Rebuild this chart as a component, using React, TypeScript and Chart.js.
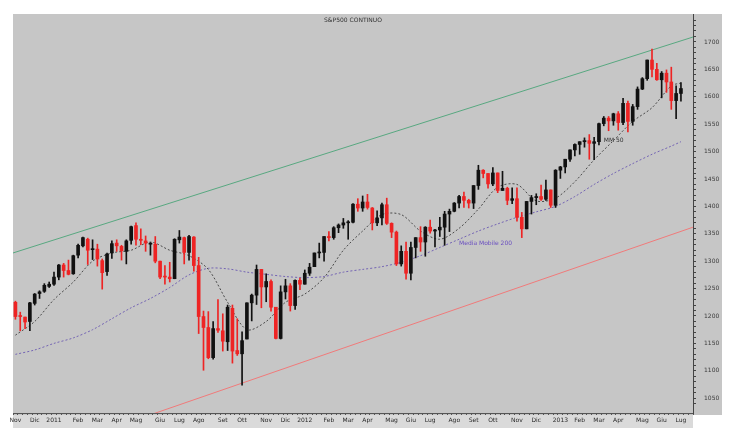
import { useEffect, useRef } from 'react';
import { Chart, registerables } from 'chart.js';

Chart.register(...registerables);

// weekly categories (week start dates)
const weeks = [
  '2010-11-08','2010-11-15','2010-11-22','2010-11-29','2010-12-06','2010-12-13','2010-12-20','2010-12-27',
  '2011-01-03','2011-01-10','2011-01-17','2011-01-24','2011-01-31','2011-02-07','2011-02-14','2011-02-21','2011-02-28',
  '2011-03-07','2011-03-14','2011-03-21','2011-03-28','2011-04-04','2011-04-11','2011-04-18','2011-04-25',
  '2011-05-02','2011-05-09','2011-05-16','2011-05-23','2011-05-30','2011-06-06','2011-06-13','2011-06-20','2011-06-27',
  '2011-07-04','2011-07-11','2011-07-18','2011-07-25','2011-08-01','2011-08-08','2011-08-15','2011-08-22','2011-08-29',
  '2011-09-05','2011-09-12','2011-09-19','2011-09-26','2011-10-03','2011-10-10','2011-10-17','2011-10-24','2011-10-31',
  '2011-11-07','2011-11-14','2011-11-21','2011-11-28','2011-12-05','2011-12-12','2011-12-19','2011-12-26',
  '2012-01-02','2012-01-09','2012-01-16','2012-01-23','2012-01-30','2012-02-06','2012-02-13','2012-02-20','2012-02-27',
  '2012-03-05','2012-03-12','2012-03-19','2012-03-26','2012-04-02','2012-04-09','2012-04-16','2012-04-23','2012-04-30',
  '2012-05-07','2012-05-14','2012-05-21','2012-05-28','2012-06-04','2012-06-11','2012-06-18','2012-06-25',
  '2012-07-02','2012-07-09','2012-07-16','2012-07-23','2012-07-30','2012-08-06','2012-08-13','2012-08-20','2012-08-27',
  '2012-09-03','2012-09-10','2012-09-17','2012-09-24','2012-10-01','2012-10-08','2012-10-15','2012-10-22','2012-10-29',
  '2012-11-05','2012-11-12','2012-11-19','2012-11-26','2012-12-03','2012-12-10','2012-12-17','2012-12-24','2012-12-31',
  '2013-01-07','2013-01-14','2013-01-21','2013-01-28','2013-02-04','2013-02-11','2013-02-18','2013-02-25',
  '2013-03-04','2013-03-11','2013-03-18','2013-03-25','2013-04-01','2013-04-08','2013-04-15','2013-04-22','2013-04-29',
  '2013-05-06','2013-05-13','2013-05-20','2013-05-27','2013-06-03','2013-06-10','2013-06-17','2013-06-24',
  '2013-07-01','2013-07-08','2013-07-15',
];

const opens = [
  1225,1200,1198,1190,1223,1241,1245,1254,1258,1271,
  1293,1283,1277,1311,1328,1340,1321,1322,1301,1281,
  1315,1333,1327,1318,1338,1365,1340,1337,1331,1331,
  1300,1272,1271,1268,1339,1343,1316,1344,1292,1199,
  1179,1124,1177,1173,1153,1214,1137,1131,1158,1224,
  1238,1285,1253,1263,1216,1159,1244,1255,1219,1265,
  1258,1278,1290,1315,1316,1345,1343,1361,1366,1370,
  1371,1404,1397,1408,1397,1370,1379,1403,1369,1353,
  1295,1318,1278,1325,1343,1335,1362,1355,1357,1362,
  1386,1391,1406,1418,1411,1406,1438,1466,1460,1441,
  1461,1429,1433,1411,1414,1380,1359,1409,1416,1418,
  1413,1430,1402,1466,1472,1486,1503,1513,1518,1520,
  1515,1518,1551,1561,1556,1569,1553,1588,1555,1582,
  1614,1633,1667,1650,1631,1643,1627,1593,1606,
];
const highs = [
  1227,1207,1198,1225,1241,1246,1259,1262,1280,1294,
  1296,1302,1311,1331,1344,1342,1339,1331,1304,1315,
  1337,1339,1329,1339,1364,1370,1359,1346,1334,1345,
  1300,1292,1298,1341,1356,1344,1347,1345,1307,1209,
  1208,1190,1230,1204,1220,1220,1195,1171,1224,1240,
  1293,1285,1277,1266,1216,1255,1267,1259,1266,1269,
  1284,1296,1315,1333,1345,1354,1363,1368,1378,1374,
  1405,1414,1419,1422,1398,1392,1406,1415,1370,1355,
  1328,1335,1335,1343,1363,1363,1375,1358,1380,1391,
  1395,1407,1420,1426,1413,1438,1475,1467,1460,1471,
  1461,1464,1435,1434,1434,1389,1409,1420,1423,1439,
  1448,1430,1467,1473,1486,1503,1514,1518,1525,1531,
  1526,1552,1564,1564,1570,1573,1597,1592,1586,1618,
  1635,1667,1687,1661,1646,1649,1654,1620,1626,
];
const lows = [
  1194,1173,1177,1173,1220,1232,1243,1252,1256,1266,
  1271,1275,1276,1306,1326,1294,1303,1291,1249,1274,
  1305,1318,1302,1295,1331,1329,1330,1318,1311,1297,
  1268,1258,1262,1268,1333,1295,1302,1282,1168,1101,
  1122,1121,1170,1136,1137,1114,1128,1074,1158,1191,
  1221,1215,1226,1209,1158,1158,1231,1209,1212,1248,
  1258,1274,1290,1306,1300,1337,1340,1352,1360,1340,
  1370,1391,1391,1395,1357,1365,1366,1367,1343,1292,
  1291,1267,1266,1306,1318,1309,1351,1326,1345,1329,
  1354,1390,1397,1398,1397,1396,1431,1452,1433,1438,
  1425,1429,1403,1405,1373,1343,1359,1386,1403,1411,
  1411,1398,1398,1451,1461,1482,1492,1495,1508,1486,
  1485,1512,1547,1538,1548,1539,1549,1536,1548,1577,
  1613,1630,1636,1630,1598,1608,1577,1560,1592,
];
const closes = [
  1199,1199,1189,1224,1240,1244,1256,1258,1271,1293,
  1283,1276,1310,1329,1343,1320,1321,1304,1279,1313,
  1332,1328,1319,1337,1363,1340,1338,1333,1331,1300,
  1271,1271,1268,1340,1344,1316,1345,1292,1199,1179,
  1124,1177,1174,1154,1216,1136,1131,1155,1224,1238,
  1285,1253,1263,1216,1159,1244,1255,1219,1265,1258,
  1278,1289,1315,1316,1345,1343,1361,1366,1370,1371,
  1404,1397,1408,1398,1370,1379,1403,1369,1353,1295,
  1318,1278,1325,1343,1335,1362,1355,1357,1362,1386,
  1391,1406,1418,1411,1406,1438,1466,1460,1441,1461,
  1429,1433,1411,1414,1380,1359,1409,1416,1418,1413,
  1430,1402,1466,1472,1486,1503,1513,1518,1520,1515,
  1518,1551,1561,1556,1569,1553,1588,1555,1582,1614,
  1633,1667,1650,1631,1643,1627,1593,1606,1615,
];

// moving averages read at sampled weeks
const maWeekIdx = [0,4,8,12,16,20,24,28,32,36,40,44,48,52,56,60,64,68,72,76,80,84,88,92,96,100,104,108,112,116,120,124,128,132,136,138];
const ma50 = [1165,1190,1230,1262,1300,1315,1320,1335,1320,1310,1285,1225,1175,1190,1225,1240,1270,1320,1355,1385,1385,1355,1340,1360,1395,1435,1440,1410,1415,1445,1485,1520,1555,1580,1620,1625];
const ma200 = [1130,1138,1150,1160,1175,1195,1215,1232,1252,1275,1287,1286,1280,1276,1272,1270,1272,1280,1285,1290,1298,1310,1325,1340,1355,1368,1380,1390,1400,1418,1440,1460,1478,1495,1510,1518];

// trend lines: value at left edge (0) and right edge (1) of the plot
const greenTrend = [{ x: 0, y: 1315 }, { x: 1, y: 1709 }];
const redTrend = [{ x: 0, y: 933 }, { x: 1, y: 1362 }];

const monthNames = ['Gen','Feb','Mar','Apr','Mag','Giu','Lug','Ago','Set','Ott','Nov','Dic'];
const yMin = 1023;
const yMax = 1751;
const title = 'S&P500 CONTINUO';
const ma200Label = { text: 'Media Mobile 200', week: 92, value: 1333 };
const ma50Label = { text: 'MM 50', week: 122, value: 1521 };

const FONT = 'DejaVu Sans';
const UP = '#111111';
const DOWN = '#ee2424';

function monthLabel(i: number): string {
  const w = weeks[i];
  if (!w) return '';
  const m = +w.slice(5, 7);
  const prev = i > 0 ? +weeks[i - 1].slice(5, 7) : -1;
  if (m === prev) return '';
  return m === 1 ? w.slice(0, 4) : monthNames[m - 1];
}

const decorPlugin = {
  id: 'decor',
  beforeDraw(chart: any) {
    const { ctx, chartArea: a, scales } = chart;
    ctx.save();
    ctx.fillStyle = '#ffffff';
    ctx.fillRect(0, 0, chart.width, chart.height);
    ctx.fillStyle = '#dadada';
    ctx.fillRect(a.left, a.bottom, a.right - a.left, scales.x.bottom - a.bottom);
    ctx.fillStyle = '#c6c6c6';
    ctx.fillRect(a.left, a.top, scales.y.right - a.left, a.bottom - a.top + 2);
    ctx.restore();
  },
  afterDraw(chart: any) {
    const { ctx, chartArea: a, scales } = chart;
    ctx.save();
    ctx.font = `6px "${FONT}"`;
    ctx.textBaseline = 'middle';
    ctx.fillStyle = '#333333';
    ctx.textAlign = 'center';
    ctx.fillText(title, (a.left + a.right) / 2, a.top + 6);
    ctx.textAlign = 'left';
    ctx.fillStyle = '#6a4fc0';
    ctx.fillText(ma200Label.text, scales.x.getPixelForValue(ma200Label.week), scales.y.getPixelForValue(ma200Label.value));
    ctx.fillStyle = '#333333';
    ctx.fillText(ma50Label.text, scales.x.getPixelForValue(ma50Label.week), scales.y.getPixelForValue(ma50Label.value));
    ctx.restore();
  },
};

export default function App() {
  const ref = useRef<HTMLCanvasElement | null>(null);

  useEffect(() => {
    if (!ref.current) return;
    const colors = closes.map((c, i) => (c >= opens[i] ? UP : DOWN));
    const wicks = closes.map((_, i) => [lows[i], highs[i]]);
    const bodies = closes.map((c, i) => [opens[i], c]);
    const ma50Pts = maWeekIdx.map((w, k) => ({ x: weeks[w], y: ma50[k] }));
    const ma200Pts = maWeekIdx.map((w, k) => ({ x: weeks[w], y: ma200[k] }));

    const chart = new Chart(ref.current, {
      type: 'bar',
      data: {
        labels: weeks,
        datasets: [
          {
            type: 'bar',
            data: bodies as any,
            backgroundColor: colors,
            borderWidth: 0,
            barThickness: 3,
            grouped: false,
            minBarLength: 1,
            order: 0,
          } as any,
          {
            type: 'bar',
            data: wicks as any,
            backgroundColor: colors,
            borderWidth: 0,
            barThickness: 1,
            grouped: false,
            order: 1,
          } as any,
          {
            type: 'line',
            data: ma50Pts as any,
            borderColor: '#4a4a4a',
            borderWidth: 1,
            borderDash: [2, 2],
            pointRadius: 0,
            tension: 0.3,
            order: 2,
          } as any,
          {
            type: 'line',
            data: ma200Pts as any,
            borderColor: '#7464b4',
            borderWidth: 1,
            borderDash: [2, 2],
            pointRadius: 0,
            tension: 0.3,
            order: 3,
          } as any,
          {
            type: 'line',
            xAxisID: 'xt',
            data: greenTrend as any,
            borderColor: '#58a880',
            borderWidth: 1,
            pointRadius: 0,
            order: 4,
          } as any,
          {
            type: 'line',
            xAxisID: 'xt',
            data: redTrend as any,
            borderColor: '#f07a7a',
            borderWidth: 1,
            pointRadius: 0,
            order: 5,
          } as any,
        ],
      },
      options: {
        animation: false,
        responsive: true,
        maintainAspectRatio: false,
        events: [],
        layout: { padding: { left: 13, top: 14, right: 11, bottom: 11 } },
        plugins: { legend: { display: false }, tooltip: { enabled: false } },
        scales: {
          x: {
            type: 'category',
            offset: true,
            grid: { display: true, drawOnChartArea: false, drawTicks: true, tickLength: 2, color: '#555555' },
            border: { display: true, color: '#555555' },
            ticks: {
              autoSkip: false,
              maxRotation: 0,
              minRotation: 0,
              padding: 2,
              color: '#2a2a2a',
              font: { family: FONT, size: 6 },
              callback: (_v: any, i: number) => monthLabel(i),
            },
            afterFit: (s: any) => { s.height = 15; },
          },
          xt: { type: 'linear', min: 0, max: 1, offset: false, display: false, grid: { offset: false } },
          y: {
            position: 'right',
            min: yMin,
            max: yMax,
            grid: { display: true, drawOnChartArea: false, drawTicks: true, tickLength: 3, color: '#444444' },
            border: { display: true, color: '#444444' },
            afterBuildTicks: (s: any) => { s.ticks = s.ticks.filter((t: any) => t.value % 10 === 0); },
            ticks: {
              stepSize: 10,
              autoSkip: false,
              padding: 8,
              color: '#3a3a3a',
              font: { family: FONT, size: 6 },
              callback: (v: any) => (Number(v) % 50 === 0 ? String(v) : ''),
            },
            afterFit: (s: any) => { s.width = 29; },
          },
        },
      } as any,
      plugins: [decorPlugin],
    });
    return () => chart.destroy();
  }, []);

  return (
    <div style={{ position: 'fixed', left: 0, top: 0, width: 733, height: 439, background: '#fff' }}>
      <canvas ref={ref} />
    </div>
  );
}
